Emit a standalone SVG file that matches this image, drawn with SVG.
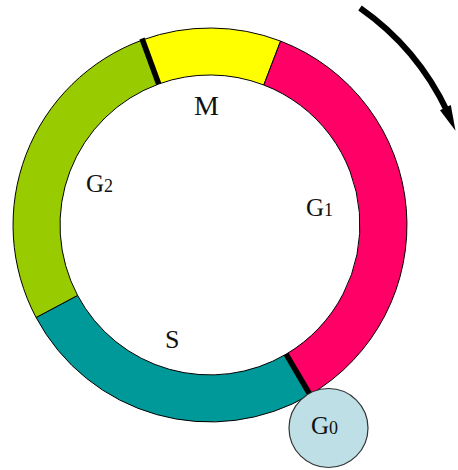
<svg xmlns="http://www.w3.org/2000/svg" width="458" height="470" viewBox="0 0 458 470">
<style>
.seg{stroke:#000;stroke-width:1}
.div{stroke:#000;stroke-width:5.5;stroke-linecap:butt;fill:none}
.lbl{font-family:"Liberation Serif","Times New Roman",serif;fill:#111}
.sub{font-size:18px}
</style>
<rect width="458" height="470" fill="#fff"/>
<g id="ring">
<g id="M-phase"><path class="seg" fill="#FFFF00" d="M142.6,39.9 A197,197 0 0 1 280.6,41.1 L263.8,85.0 A150,150 0 0 0 158.7,84.0 Z"/>
<text class="lbl" x="194" y="115" font-size="28">M</text></g>
<g id="G1-phase"><path class="seg" fill="#FF0066" d="M280.6,41.1 A197,197 0 0 1 310.0,394.7 L286.1,354.2 A150,150 0 0 0 263.8,85.0 Z"/>
<text class="lbl" x="306" y="216" font-size="25">G<tspan class="sub">1</tspan></text></g>
<g id="S-phase"><path class="seg" fill="#009999" d="M310.0,394.7 A197,197 0 0 1 36.1,317.5 L77.6,295.4 A150,150 0 0 0 286.1,354.2 Z"/>
<text class="lbl" x="165" y="348" font-size="26">S</text></g>
<g id="G2-phase"><path class="seg" fill="#99CC00" d="M36.1,317.5 A197,197 0 0 1 142.6,39.9 L158.7,84.0 A150,150 0 0 0 77.6,295.4 Z"/>
<text class="lbl" x="86" y="192" font-size="25">G<tspan class="sub">2</tspan></text></g>
</g>
<g id="connectors">
<line class="div" x1="158.7" y1="84.0" x2="142.0" y2="38.5"/>
<line class="div" x1="286.1" y1="354.2" x2="310.5" y2="395.5"/>
<path d="M360,8 A263,263 0 0 1 447.4,111.8" fill="none" stroke="#000" stroke-width="6"/>
<polygon points="450.8,104.9 440.0,110.3 455.5,130.7" fill="#000"/>
</g>
<g id="G0">
<circle cx="328.5" cy="428" r="39.5" fill="#BDDFE5" stroke="#333" stroke-width="1.2"/>
<text class="lbl" x="311" y="434" font-size="25">G<tspan class="sub">0</tspan></text>
</g>
</svg>
